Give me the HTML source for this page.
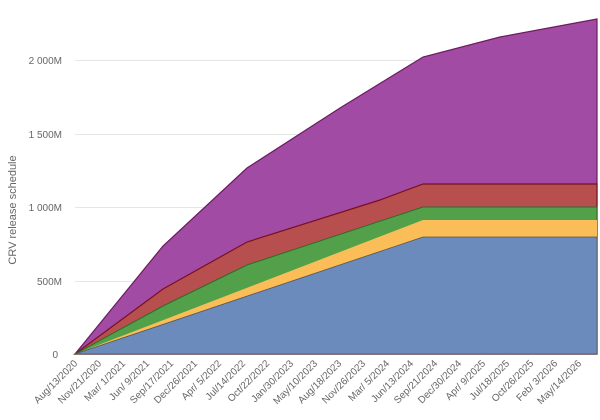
<!DOCTYPE html>
<html><head><style>body{margin:0;background:#fff}svg{display:block}</style></head><body>
<svg width="600" height="420" xmlns="http://www.w3.org/2000/svg" font-family="Liberation Sans, sans-serif">
<g stroke="#e6e6e6" stroke-width="1">
<line x1="75" y1="60.5" x2="598" y2="60.5"/><line x1="75" y1="134.5" x2="598" y2="134.5"/>
<line x1="75" y1="207.5" x2="598" y2="207.5"/><line x1="75" y1="281.5" x2="598" y2="281.5"/>
</g>
<g fill="#666" font-size="10" text-anchor="end">
<text x="62" y="64">2 000M</text><text x="62" y="138">1 500M</text><text x="62" y="211">1 000M</text><text x="62" y="285">500M</text><text x="58" y="358">0</text>
</g>
<text transform="translate(16,210) rotate(-90)" text-anchor="middle" font-size="11" fill="#666">CRV release schedule</text>
<path d="M75,354 L163,246 L247,168 L340,108 L423,57 L500,37 L597,19 L597,354 Z" fill="#a24ba5" stroke="#6b1b5e" stroke-width="1.2"/>
<path d="M75,354 L163,289 L247,242 L380,200 L423,184 L597,184 L597,354 Z" fill="#b84f4f" stroke="#7a0f20" stroke-width="1.2"/>
<path d="M75,354 L163,306 L247,265 L423,207 L597,207 L597,354 Z" fill="#52a14a" stroke="#2f6b2a" stroke-width="1"/>
<path d="M75,354 L423,220 L597,220 L597,354 Z" fill="#fbbd58"/>
<path d="M75,354 L423,237 L597,237 L597,354 Z" fill="#6a8bbb" stroke="#555" stroke-width="0.8"/>
<g fill="#666" font-size="10" text-anchor="end">
<text transform="translate(78,364) rotate(-45)">Aug/13/2020</text>
<text transform="translate(102,364) rotate(-45)">Nov/21/2020</text>
<text transform="translate(126,364) rotate(-45)">Mar/ 1/2021</text>
<text transform="translate(150,364) rotate(-45)">Jun/ 9/2021</text>
<text transform="translate(174,364) rotate(-45)">Sep/17/2021</text>
<text transform="translate(198,364) rotate(-45)">Dec/26/2021</text>
<text transform="translate(222,364) rotate(-45)">Apr/ 5/2022</text>
<text transform="translate(246,364) rotate(-45)">Jul/14/2022</text>
<text transform="translate(270,364) rotate(-45)">Oct/22/2022</text>
<text transform="translate(294,364) rotate(-45)">Jan/30/2023</text>
<text transform="translate(318,364) rotate(-45)">May/10/2023</text>
<text transform="translate(342,364) rotate(-45)">Aug/18/2023</text>
<text transform="translate(366,364) rotate(-45)">Nov/26/2023</text>
<text transform="translate(390,364) rotate(-45)">Mar/ 5/2024</text>
<text transform="translate(414,364) rotate(-45)">Jun/13/2024</text>
<text transform="translate(438,364) rotate(-45)">Sep/21/2024</text>
<text transform="translate(462,364) rotate(-45)">Dec/30/2024</text>
<text transform="translate(486,364) rotate(-45)">Apr/ 9/2025</text>
<text transform="translate(510,364) rotate(-45)">Jul/18/2025</text>
<text transform="translate(534,364) rotate(-45)">Oct/26/2025</text>
<text transform="translate(558,364) rotate(-45)">Feb/ 3/2026</text>
<text transform="translate(582,364) rotate(-45)">May/14/2026</text>
</g>
</svg>
</body></html>
